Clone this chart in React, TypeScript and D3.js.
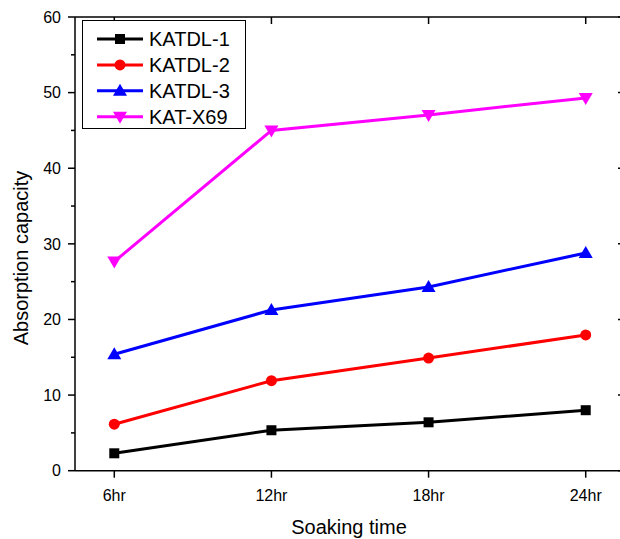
import React from "react";
import * as d3 from "d3";

const categories = ["6hr", "12hr", "18hr", "24hr"];
const seriesNames = ["KATDL-1", "KATDL-2", "KATDL-3", "KAT-X69"];
const katdl1 = [2.3, 5.35, 6.4, 8.0];
const katdl2 = [6.15, 11.9, 14.9, 17.95];
const katdl3 = [15.4, 21.25, 24.3, 28.8];
const katx69 = [27.65, 45.0, 47.05, 49.3];
const yTicks = [0, 10, 20, 30, 40, 50, 60];
const yMinor = [5, 15, 25, 35, 45, 55];
const colors = ["#000000", "#ff0000", "#0000ff", "#ff00ff"];
const markers = ["square", "circle", "triangle-up", "triangle-down"];

const W = 620, H = 539;
const left = 75, right = 625, top = 17, bottom = 470.7;
const FONT = "'Liberation Sans', Arial, sans-serif";

function Marker({ type, x, y, color }: { type: string; x: number; y: number; color: string }) {
  if (type === "square") return <rect x={x - 5} y={y - 5} width={10} height={10} fill={color} />;
  if (type === "circle") return <circle cx={x} cy={y} r={5.5} fill={color} />;
  if (type === "triangle-up")
    return <path d={`M${x},${y - 7} L${x + 7},${y + 5} L${x - 7},${y + 5} Z`} fill={color} />;
  return <path d={`M${x},${y + 7} L${x + 7},${y - 5} L${x - 7},${y - 5} Z`} fill={color} />;
}

export default function App() {
  const data = [katdl1, katdl2, katdl3, katx69];
  const x = d3.scalePoint<string>().domain(categories).range([left, right]).padding(0.25);
  const y = d3.scaleLinear().domain([0, 60]).range([bottom, top]);
  const line = d3
    .line<number>()
    .x((_, i) => x(categories[i]) as number)
    .y((d) => y(d));

  return (
    <svg width={W} height={H} style={{ position: "absolute", left: 0, top: 0, background: "#fff" }} fontFamily={FONT}>
      <rect x={0} y={0} width={W} height={H} fill="#fff" />
      {/* frame */}
      <line x1={left} x2={right} y1={top} y2={top} stroke="#000" strokeWidth={1.5} />
      <line x1={left} x2={right} y1={bottom} y2={bottom} stroke="#000" strokeWidth={1.5} />
      <line x1={left} x2={left} y1={top} y2={bottom} stroke="#000" strokeWidth={1.5} />
      <line x1={right} x2={right} y1={top} y2={bottom} stroke="#000" strokeWidth={1.5} />
      {/* y ticks */}
      {yTicks.map((t) => (
        <g key={t}>
          <line x1={left - 7} x2={left} y1={y(t)} y2={y(t)} stroke="#000" strokeWidth={1.5} />
          <line x1={right - 7} x2={right} y1={y(t)} y2={y(t)} stroke="#000" strokeWidth={1.5} />
          <text x={61} y={y(t)} dy="0.36em" textAnchor="end" fontSize={16}>{t}</text>
        </g>
      ))}
      {yMinor.map((t) => (
        <line key={t} x1={left - 4} x2={left} y1={y(t)} y2={y(t)} stroke="#000" strokeWidth={1.5} />
      ))}
      {/* x ticks */}
      {categories.map((c) => (
        <g key={c}>
          <line x1={x(c)} x2={x(c)} y1={bottom} y2={bottom + 7} stroke="#000" strokeWidth={1.5} />
          <line x1={x(c)} x2={x(c)} y1={top} y2={top + 7} stroke="#000" strokeWidth={1.5} />
          <text x={x(c)} y={500.5} textAnchor="middle" fontSize={16}>{c}</text>
        </g>
      ))}
      {/* series */}
      {data.map((s, k) => (
        <g key={k}>
          <path d={line(s) || ""} fill="none" stroke={colors[k]} strokeWidth={3} />
          {s.map((v, i) => (
            <Marker key={i} type={markers[k]} x={x(categories[i]) as number} y={y(v)} color={colors[k]} />
          ))}
        </g>
      ))}
      {/* legend */}
      <rect x={82.5} y={20.5} width={163} height={108} fill="#fff" stroke="#000" strokeWidth={1} />
      {seriesNames.map((n, k) => {
        const ly = 39 + k * 25.9;
        return (
          <g key={n}>
            <line x1={97} x2={143} y1={ly} y2={ly} stroke={colors[k]} strokeWidth={3} />
            <Marker type={markers[k]} x={120} y={ly} color={colors[k]} />
            <text x={149} y={ly} dy="0.36em" fontSize={20}>{n}</text>
          </g>
        );
      })}
      {/* axis titles */}
      <text x={349} y={534} textAnchor="middle" fontSize={20}>Soaking time</text>
      <text transform={`translate(28,258) rotate(-90)`} textAnchor="middle" fontSize={20}>Absorption capacity</text>
    </svg>
  );
}
